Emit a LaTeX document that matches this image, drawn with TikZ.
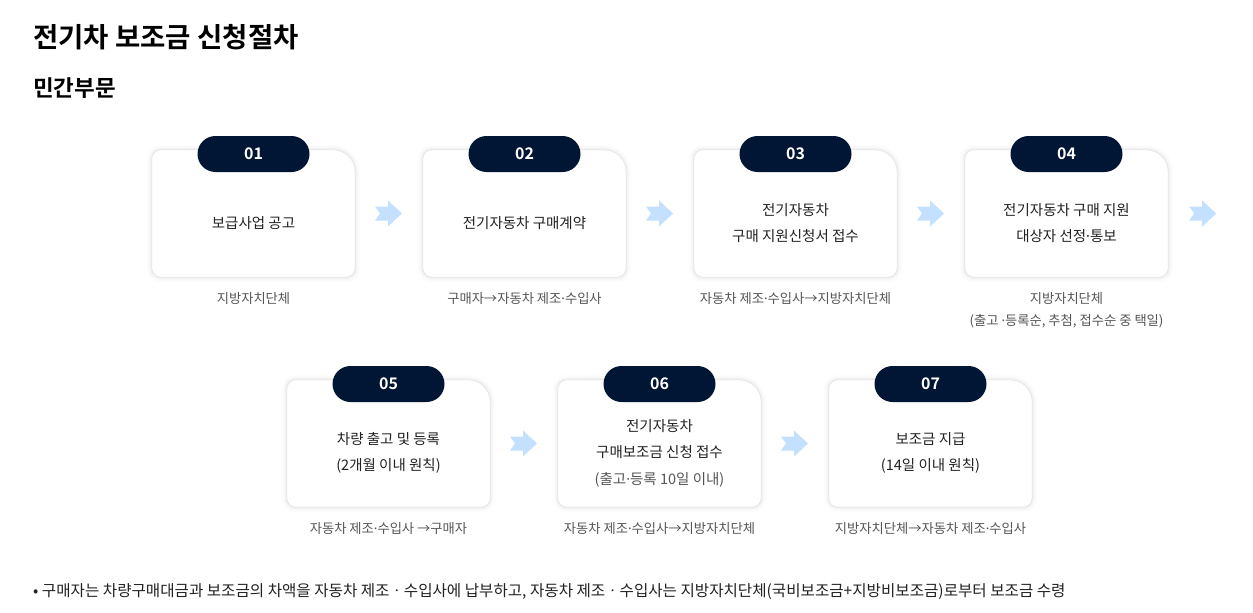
\documentclass[tikz,border=0pt]{standalone}
\usepackage{fontspec}
\newfontfamily\kr{Noto Sans CJK KR}[BoldFont={Noto Sans CJK KR Bold}]
\newfontfamily\lat{Noto Sans}
\newcommand\md{{\lat ·}}
\usetikzlibrary{backgrounds,calc}
\definecolor{navy}{RGB}{0,22,52}
\definecolor{ink}{RGB}{34,34,34}
\definecolor{capc}{RGB}{85,85,85}
\definecolor{arr}{RGB}{196,224,255}
\definecolor{edgec}{RGB}{230,230,230}
\newcommand\cardshape[1]{(#1.west) [rounded corners=9pt] -- (#1.north west) -- (#1.north) [rounded corners=22pt] -- (#1.north east) -- (#1.east) [rounded corners=9pt] -- (#1.south east) -- (#1.south west) -- cycle}
\newcommand\cardbg[1]{%
  \begin{pgfonlayer}{background}
    \draw[line width=10pt, black, opacity=0.012, yshift=-3pt] \cardshape{#1};
    \draw[line width=6pt, black, opacity=0.018, yshift=-3pt] \cardshape{#1};
    \draw[line width=3pt, black, opacity=0.025, yshift=-2pt] \cardshape{#1};
    \draw[fill=white, draw=edgec, line width=0.8pt] \cardshape{#1};
  \end{pgfonlayer}}
\tikzset{
  card/.style={minimum width=203pt, minimum height=127pt, inner sep=0pt, align=center,
    text=ink, font=\kr\fontsize{14.5}{26.5}\selectfont},
  cardtext/.style={align=center, text=ink, font=\kr\fontsize{14.5}{26.5}\selectfont, inner sep=0pt},
  badge/.style={fill=navy, rounded corners=18pt, minimum width=112pt, minimum height=36pt,
    inner sep=0pt, text=white, font=\kr\bfseries\fontsize{16}{18}\selectfont},
  captxt/.style={align=center, text=capc, font=\kr\fontsize{13.3}{22}\selectfont},
  chev/.pic={\fill[arr] (-14,-7) -- (-1,-7) -- (-1,-13) -- (13,0) -- (-1,13) -- (-1,7) -- (-14,7) -- (-9,0) -- cycle;},
}
\begin{document}
\begin{tikzpicture}[x=1pt, y=-1pt]
\begin{pgfonlayer}{background}
\fill[white] (0,0) rectangle (1253,613);
\end{pgfonlayer}
\useasboundingbox (0,0) rectangle (1253,613);
\node[anchor=west, text=black, font=\kr\bfseries\fontsize{27.5}{32}\selectfont, inner sep=0pt] (title) at (33,37) {전기차 보조금 신청절차};
\node[anchor=west, text=black, font=\kr\bfseries\fontsize{22.5}{26}\selectfont, inner sep=0pt] (sub) at (33,88) {민간부문};
% cards
\node[card] (c1) at (253.5,213.5) {};
\node[card] (c2) at (524.5,213.5) {};
\node[card] (c3) at (795.5,213.5) {};
\node[card] (c4) at (1066.5,213.5) {};
\node[card] (c5) at (388.5,443.5) {};
\node[card] (c6) at (659.5,443.5) {};
\node[card] (c7) at (930.5,443.5) {};
\foreach \c in {c1,c2,c3,c4,c5,c6,c7}{\cardbg{\c}}
% card texts
\node[cardtext] (x1) at ($(c1.center)+(0,9.5)$) {보급사업 공고};
\node[cardtext] (x2) at ($(c2.center)+(0,9.5)$) {전기자동차 구매계약};
\node[cardtext] (x3) at ($(c3.center)+(0,9.5)$) {전기자동차\\구매 지원신청서 접수};
\node[cardtext] (x4) at ($(c4.center)+(0,9.5)$) {전기자동차 구매 지원\\대상자 선정\md 통보};
\node[cardtext] (x5) at ($(c5.center)+(0,9.5)$) {차량 출고 및 등록\\(2개월 이내 원칙)};
\node[cardtext] (x6) at ($(c6.center)+(0,9.5)$) {전기자동차\\구매보조금 신청 접수\\{\color{capc}(출고\md 등록 10일 이내)}};
\node[cardtext] (x7) at ($(c7.center)+(0,9.5)$) {보조금 지급\\(14일 이내 원칙)};
% badges
\node[badge] (b1) at (253.5,154) {01};
\node[badge] (b2) at (524.5,154) {02};
\node[badge] (b3) at (795.5,154) {03};
\node[badge] (b4) at (1066.5,154) {04};
\node[badge] (b5) at (388.5,384) {05};
\node[badge] (b6) at (659.5,384) {06};
\node[badge] (b7) at (930.5,384) {07};
% captions
\node[captxt, anchor=north] (t1) at (253.5,289) {지방자치단체};
\node[captxt, anchor=north] (t2) at (524.5,289) {구매자→자동차 제조\md 수입사};
\node[captxt, anchor=north] (t3) at (795.5,289) {자동차 제조\md 수입사→지방자치단체};
\node[captxt, anchor=north] (t4) at (1066.5,289) {지방자치단체\\(출고 \md 등록순, 추첨, 접수순 중 택일)};
\node[captxt, anchor=north] (t5) at (388.5,519) {자동차 제조\md 수입사 →구매자};
\node[captxt, anchor=north] (t6) at (659.5,519) {자동차 제조\md 수입사→지방자치단체};
\node[captxt, anchor=north] (t7) at (930.5,519) {지방자치단체→자동차 제조\md 수입사};
% arrows
\coordinate (a4) at ($(c4.east)+(35,0)$);
\pic at ($(c1.east)!0.5!(c2.west)$) {chev};
\pic at ($(c2.east)!0.5!(c3.west)$) {chev};
\pic at ($(c3.east)!0.5!(c4.west)$) {chev};
\pic at (a4) {chev};
\pic at ($(c5.east)!0.5!(c6.west)$) {chev};
\pic at ($(c6.east)!0.5!(c7.west)$) {chev};
% note
\node[anchor=west, text=ink, font=\kr\fontsize{15.6}{18}\selectfont, inner sep=0pt] (note) at (33,592) {• 구매자는 차량구매대금과 보조금의 차액을 자동차 제조ㆍ수입사에 납부하고, 자동차 제조ㆍ수입사는 지방자치단체(국비보조금+지방비보조금)로부터 보조금 수령};
\end{tikzpicture}
\end{document}
